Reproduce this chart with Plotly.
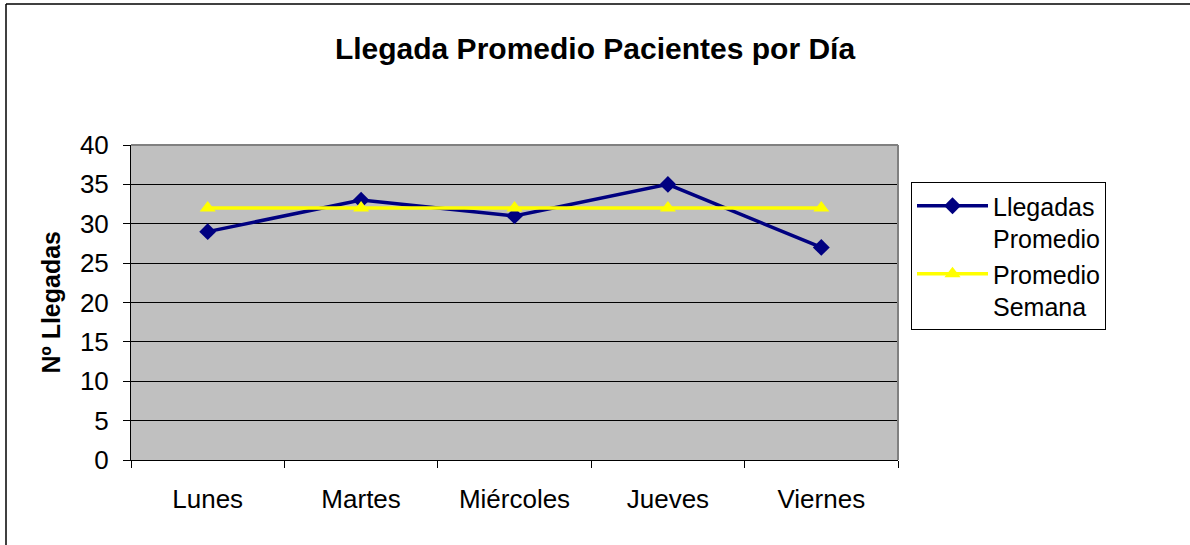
import plotly.graph_objects as go

dias = ["Lunes", "Martes", "Miércoles", "Jueves", "Viernes"]
llegadas_promedio = [29, 33, 31, 35, 27]
promedio_semana = [32, 32, 32, 32, 32]
y_ticks = [0, 5, 10, 15, 20, 25, 30, 35, 40]

FONT = "Liberation Sans, Arial, sans-serif"

fig = go.Figure()
fig.add_trace(go.Scatter(
    x=dias, y=llegadas_promedio, mode="lines+markers",
    name="Llegadas<br>Promedio",
    line=dict(color="#000080", width=3.5),
    marker=dict(symbol="diamond", size=13, color="#000080"),
))
fig.add_trace(go.Scatter(
    x=dias, y=promedio_semana, mode="lines+markers",
    name="Promedio<br>Semana",
    line=dict(color="#FFFF00", width=3.5),
    marker=dict(symbol="triangle-up", size=14, color="#FFFF00"),
))

L, R, T, B = 131, 292, 145, 85
W, H = 1190, 545
pw, ph = W - L - R, H - T - B

fig.update_layout(
    width=W, height=H,
    margin=dict(l=L, r=R, t=T, b=B, pad=0),
    paper_bgcolor="white",
    plot_bgcolor="#C0C0C0",
    font=dict(family=FONT, size=26, color="black"),
    title=dict(text="<b>Llegada Promedio Pacientes por Día</b>",
               x=0.5, xref="container", xanchor="center",
               y=1 - 48 / H, yref="container", yanchor="middle",
               font=dict(size=30, family=FONT, color="black")),
    showlegend=True,
    legend=dict(
        x=(911 - L) / pw, xanchor="left",
        y=(H - B - 182) / ph, yanchor="top",
        bordercolor="black", borderwidth=1, bgcolor="white",
        font=dict(size=25, family=FONT),
        itemwidth=71, valign="top", tracegroupgap=0,
    ),
    xaxis=dict(
        type="category", range=[-0.5, 4.5],
        showgrid=False, showline=True, linecolor="black", linewidth=1,
        ticks="outside", ticklen=7, tickcolor="black", tickson="boundaries",
        ticklabelstandoff=16, zeroline=False,
    ),
    yaxis=dict(
        range=[0, 40], tickvals=y_ticks,
        showgrid=True, gridcolor="black", gridwidth=1,
        showline=True, linecolor="black", linewidth=1,
        ticks="outside", ticklen=7, tickcolor="black",
        ticklabelstandoff=9, zeroline=False,
    ),
    annotations=[dict(
        text="<b>Nº Llegadas</b>", textangle=-90,
        xref="paper", yref="paper", x=(50 - L) / pw, y=0.5,
        xanchor="center", yanchor="middle", showarrow=False,
        font=dict(size=25, family=FONT, color="black"),
    )],
    shapes=[
        dict(type="line", xref="paper", yref="paper", x0=0, x1=1, y0=1, y1=1,
             line=dict(color="#808080", width=2), layer="above"),
        dict(type="line", xref="paper", yref="paper", x0=1, x1=1, y0=0, y1=1,
             line=dict(color="#808080", width=2), layer="above"),
        dict(type="line", xref="paper", yref="paper",
             x0=(6 - L) / pw, x1=(6 - L) / pw, y0=(H - B - 4) / ph, y1=(H - B - 560) / ph,
             line=dict(color="black", width=1.5)),
        dict(type="line", xref="paper", yref="paper",
             x0=(6 - L) / pw, x1=(1200 - L) / pw, y0=(H - B - 4) / ph, y1=(H - B - 4) / ph,
             line=dict(color="black", width=1.5)),
    ],
)

fig.write_html("out.html", config={"displayModeBar": False},
               post_script="document.body.style.margin='0px';")
